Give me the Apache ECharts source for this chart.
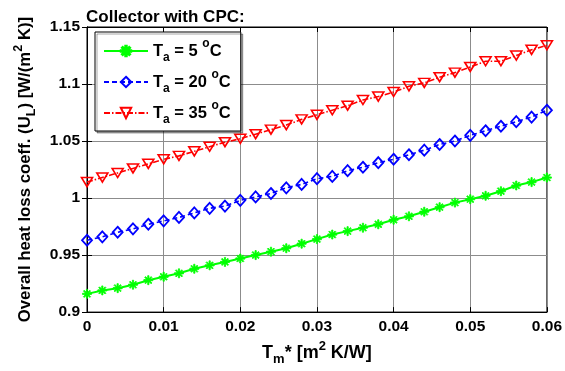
<!DOCTYPE html>
<html>
<head>
<meta charset="utf-8">
<script src="https://cdn.jsdelivr.net/npm/echarts@6/dist/echarts.min.js"></script>
<style>
html,body{margin:0;padding:0;background:#fff;}
#chart{width:565px;height:371px;}
</style>
</head>
<body>
<div id="chart"></div>
<script>
const tmStar = [0, 0.002, 0.004, 0.006, 0.008, 0.010, 0.012, 0.014, 0.016, 0.018, 0.020,
  0.022, 0.024, 0.026, 0.028, 0.030, 0.032, 0.034, 0.036, 0.038, 0.040,
  0.042, 0.044, 0.046, 0.048, 0.050, 0.052, 0.054, 0.056, 0.058, 0.060];
const ta5 = [0.916, 0.919, 0.921, 0.924, 0.928, 0.931, 0.934, 0.938, 0.941, 0.944, 0.947,
  0.950, 0.953, 0.956, 0.960, 0.964, 0.968, 0.971, 0.974, 0.977, 0.981,
  0.984, 0.988, 0.992, 0.996, 0.999, 1.002, 1.006, 1.011, 1.014, 1.018];
const ta20 = [0.963, 0.966, 0.970, 0.973, 0.977, 0.980, 0.983, 0.987, 0.991, 0.993, 0.998,
  1.001, 1.004, 1.009, 1.012, 1.017, 1.019, 1.024, 1.027, 1.031, 1.034,
  1.038, 1.042, 1.047, 1.050, 1.055, 1.059, 1.063, 1.067, 1.071, 1.077];
const ta35 = [1.014, 1.018, 1.022, 1.026, 1.030, 1.034, 1.037, 1.041, 1.045, 1.049, 1.052,
  1.056, 1.060, 1.064, 1.069, 1.073, 1.077, 1.081, 1.086, 1.089, 1.093,
  1.098, 1.101, 1.106, 1.110, 1.115, 1.120, 1.120, 1.125, 1.130, 1.134];
const seriesNames = ['Ta = 5 °C', 'Ta = 20 °C', 'Ta = 35 °C'];
const legendTexts = ['5 ', '20 ', '35 '];
const xTickLabels = ['0', '0.01', '0.02', '0.03', '0.04', '0.05', '0.06'];
const yTickLabels = ['0.9', '0.95', '1', '1.05', '1.1', '1.15'];

const FONT = '"Liberation Sans", Arial, sans-serif';
const pair = (ys) => tmStar.map((x, i) => [x, ys[i]]);
const asterisk = 'path://M0,4.3L10,4.3L10,5.7L0,5.7Z M4.3,0L5.7,0L5.7,10L4.3,10Z M1.9,1.0L9.0,8.1L8.1,9.0L1.0,1.9Z M8.1,1.0L9.0,1.9L1.9,9.0L1.0,8.1Z';

function rich(main, small, lh) {
  return {
    m: {fontFamily: FONT, fontWeight: 'bold', fontSize: main, lineHeight: lh, color: '#000'},
    s: {fontFamily: FONT, fontWeight: 'bold', fontSize: small, lineHeight: 9, verticalAlign: 'bottom', color: '#000'},
    p: {fontFamily: FONT, fontWeight: 'bold', fontSize: small, lineHeight: 19, verticalAlign: 'top', color: '#000'}
  };
}

const chart = echarts.init(document.getElementById('chart'), null, {renderer: 'canvas'});
const gridColor = '#8c8c8c';
chart.setOption({
  animation: false,
  backgroundColor: '#fff',
  title: {
    text: 'Collector with CPC:', left: 86, top: 9, padding: 0,
    textStyle: {fontFamily: FONT, fontWeight: 'bold', fontSize: 17, color: '#000'}
  },
  grid: {left: 87, right: 17, top: 27, bottom: 49, show: true, borderColor: '#000', borderWidth: 1, backgroundColor: 'transparent'},
  legend: {
    orient: 'vertical', left: 95, top: 32,
    itemWidth: 44, itemHeight: 13, itemGap: 5,
    padding: [6, 10, 5, 8],
    backgroundColor: '#fff', borderColor: '#000', borderWidth: 1,
    shadowColor: 'rgba(0,0,0,0.35)', shadowOffsetX: 2, shadowOffsetY: 2, shadowBlur: 0,
    data: seriesNames,
    formatter: (name) => '{m|T}{s|a}{m| = ' + legendTexts[seriesNames.indexOf(name)] + '}{p|o}{m|C}',
    textStyle: {rich: rich(16.5, 12, 26)}
  },
  xAxis: [{
    type: 'value', min: 0, max: 0.06, interval: 0.01,
    name: '{m|T}{s|m}{m|* [m}{p|2}{m| K/W]}', nameLocation: 'middle', nameGap: 27,
    nameTextStyle: {rich: rich(18, 13, 26)},
    axisLine: {show: true, onZero: false, lineStyle: {color: '#000', width: 1}},
    axisTick: {show: true, inside: true, length: 5, lineStyle: {color: '#000'}},
    axisLabel: {fontFamily: FONT, fontWeight: 'bold', fontSize: 15.5, color: '#000', margin: 7,
      formatter: (v) => xTickLabels[Math.round(v / 0.01)]},
    splitLine: {show: true, lineStyle: {color: gridColor, width: 1}}
  }, {
    type: 'value', position: 'top', min: 0, max: 0.06, interval: 0.01,
    axisLine: {show: true, lineStyle: {color: '#000'}},
    axisTick: {show: true, inside: true, length: 5, lineStyle: {color: '#000'}},
    axisLabel: {show: false}, splitLine: {show: false}
  }],
  yAxis: [{
    type: 'value', min: 0.9, max: 1.15, interval: 0.05,
    name: '{m|Overall heat loss coeff. (U}{s|L}{m|) [W/(m}{p|2}{m| K)]}', nameLocation: 'middle', nameGap: 49,
    nameTextStyle: {rich: rich(16.8, 12.5, 26)},
    axisLine: {show: true, onZero: false, lineStyle: {color: '#000', width: 1}},
    axisTick: {show: true, inside: true, length: 5, lineStyle: {color: '#000'}},
    axisLabel: {fontFamily: FONT, fontWeight: 'bold', fontSize: 15.5, color: '#000', margin: 7,
      formatter: (v) => yTickLabels[Math.round((v - 0.9) / 0.05)]},
    splitLine: {show: true, lineStyle: {color: gridColor, width: 1}}
  }, {
    type: 'value', position: 'right', min: 0.9, max: 1.15, interval: 0.05,
    axisLine: {show: true, lineStyle: {color: '#000'}},
    axisTick: {show: true, inside: true, length: 5, lineStyle: {color: '#000'}},
    axisLabel: {show: false}, splitLine: {show: false}
  }],
  series: [{
    name: seriesNames[0], type: 'line', data: pair(ta5),
    symbol: asterisk, symbolSize: 9,
    lineStyle: {color: '#00ff00', width: 2, type: 'solid'},
    itemStyle: {color: '#00ff00', borderColor: '#00ff00', borderWidth: 0.8}
  }, {
    name: seriesNames[1], type: 'line', data: pair(ta20),
    symbol: 'diamond', symbolSize: [10, 11],
    lineStyle: {color: '#0000ff', width: 1.6, type: [5, 3]},
    itemStyle: {color: 'rgba(0,0,0,0)', borderColor: '#0000ff', borderWidth: 1.8}
  }, {
    name: seriesNames[2], type: 'line', data: pair(ta35),
    symbol: 'triangle', symbolSize: [11, 9], symbolRotate: 180,
    lineStyle: {color: '#ff0000', width: 1.6, type: [6, 2, 1.5, 2]},
    itemStyle: {color: 'rgba(0,0,0,0)', borderColor: '#ff0000', borderWidth: 1.6}
  }]
});
</script>
</body>
</html>
